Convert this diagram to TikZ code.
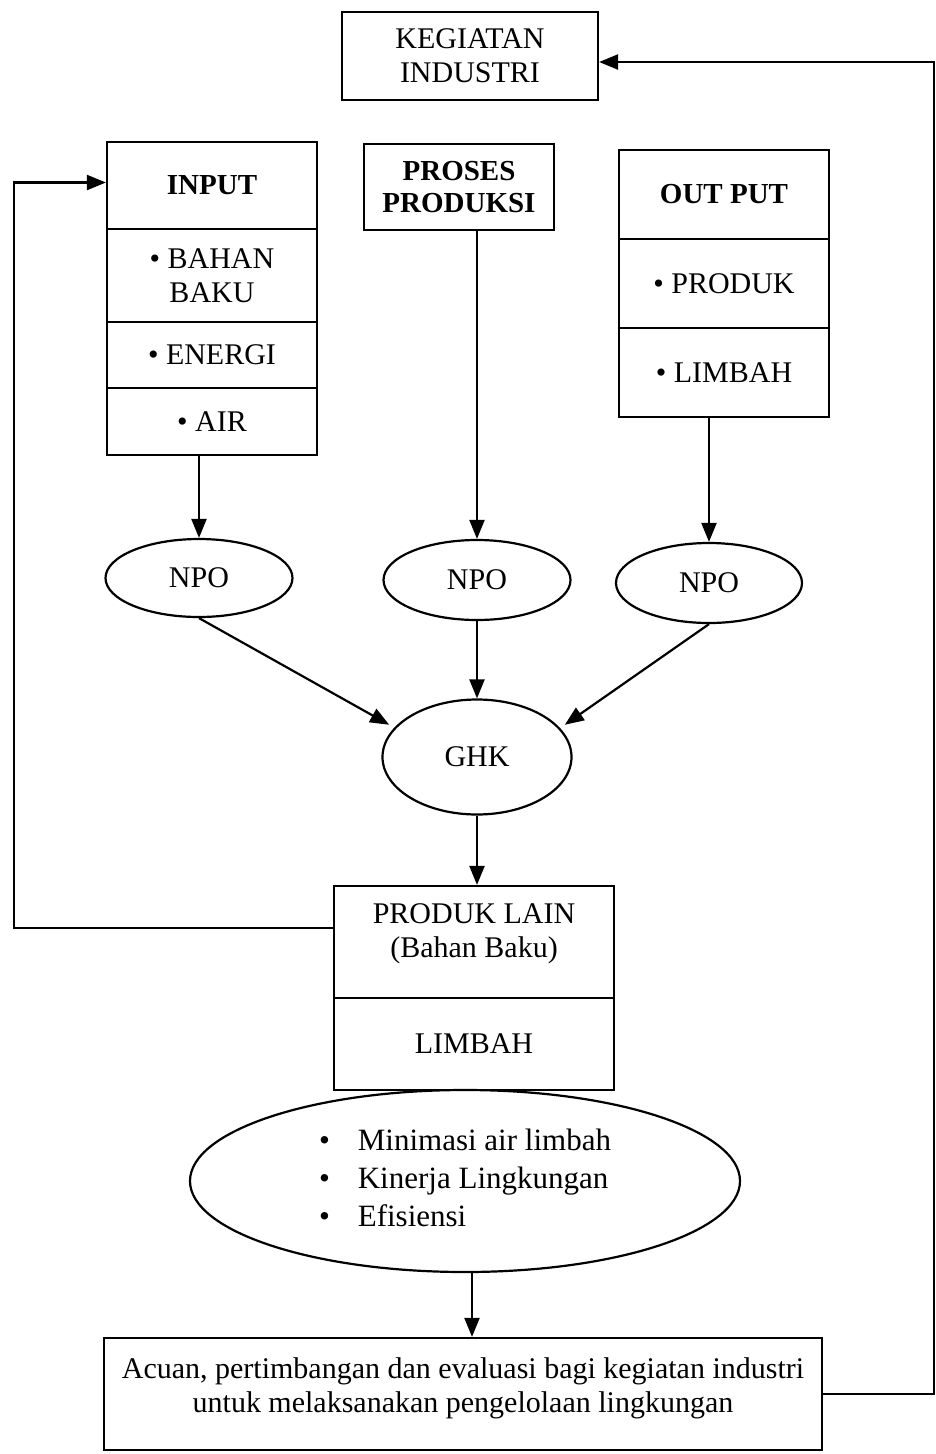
\documentclass[tikz,border=0pt]{standalone}
\usepackage{fontspec}
\setmainfont{Liberation Serif}
\usetikzlibrary{shapes.geometric,arrows.meta}
\begin{document}
\begin{tikzpicture}[x=1pt,y=-1pt,
  line width=2.2pt,
  every node/.style={font=\fontsize{30}{34}\selectfont, inner sep=0pt, align=center},
  cell/.style 2 args={draw, rectangle, minimum width=#1, minimum height=#2},
  oval/.style 2 args={draw, ellipse, minimum width=#1, minimum height=#2},
  arr/.style={-{Triangle[length=19pt,width=15pt]}},
  head/.style={font=\fontsize{29}{32}\selectfont\bfseries}]
\useasboundingbox (0,0) rectangle (936,1454);

% top: industrial activity
\node[cell={256}{88}] (kegiatan) at (470,56) {KEGIATAN\\INDUSTRI};

% input column
\node[cell={210}{87}, head] (in1) at (212,185.5) {INPUT};
\node[cell={210}{93}] (in2) at (212,275.5) {\textbullet{} BAHAN\\BAKU};
\node[cell={210}{66}] (in3) at (212,355) {\textbullet{} ENERGI};
\node[cell={210}{67}] (in4) at (212,421.5) {\textbullet{} AIR};

% production process
\node[cell={190}{86}, head] (proses) at (459,187) {PROSES\\PRODUKSI};

% output column
\node[cell={210}{89}, head] (out1) at (724,194.5) {OUT PUT};
\node[cell={210}{89}] (out2) at (724,283.5) {\textbullet{} PRODUK};
\node[cell={210}{89}] (out3) at (724,372.5) {\textbullet{} LIMBAH};

% NPO ovals and GHK
\node[oval={187}{78}] (npo1) at (199,578) {NPO};
\node[oval={187}{80}] (npo2) at (477,580) {NPO};
\node[oval={186}{80}] (npo3) at (709,583) {NPO};
\node[oval={189}{115}] (ghk) at (477,757) {GHK};

% other products
\node[cell={280}{112}] (pl1) at (474,942) {PRODUK LAIN\\(Bahan Baku)\\[-12pt]\mbox{}};
\node[cell={280}{92}] (pl2) at (474,1044) {LIMBAH};

% benefits
\node[oval={550}{182}] (ell) at (465,1181)
  {\fontsize{31}{38}\selectfont\def\arraystretch{1}\begin{tabular}{@{}l@{\hspace{28pt}}l@{}}
   \textbullet & Minimasi air limbah\\
   \textbullet & Kinerja Lingkungan\\
   \textbullet & Efisiensi
  \end{tabular}};

% reference box
\node[cell={718}{112}] (acuan) at (463,1394)
  {Acuan, pertimbangan dan evaluasi bagi kegiatan industri\\untuk melaksanakan pengelolaan lingkungan\\[-16pt]\mbox{}};

% arrows
\draw[arr] (in4.south -| npo1.north) -- (npo1.north);
\draw[arr] (proses.south -| npo2.north) -- (npo2.north);
\draw[arr] (out3.south -| npo3.north) -- (npo3.north);
\draw[arr] (npo1.south) -- ([xshift=-8pt]ghk.158);
\draw[arr] (npo2.south) -- (ghk.north);
\draw[arr] (npo3.south) -- ([xshift=8pt]ghk.22);
\draw[arr] (ghk.south) -- (ghk.south |- pl1.north);
\draw[arr] ([xshift=7pt]ell.south) -- ([xshift=7pt]ell.south |- acuan.north);

% feedback loops
\coordinate (fbL) at (14,928);
\coordinate (fbR) at (934,1394);
\draw[arr] ([yshift=14pt]pl1.west) -- (fbL) |- ([yshift=3pt]in1.west);
\draw[arr] (acuan.east) -- (fbR) |- ([yshift=-6pt]kegiatan.east);
\end{tikzpicture}
\end{document}
